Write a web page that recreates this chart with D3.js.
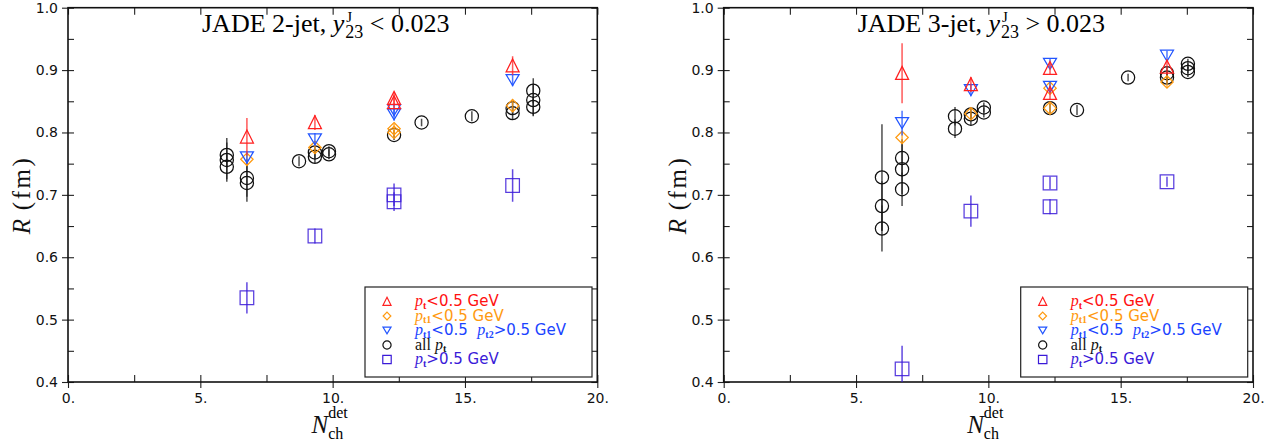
<!DOCTYPE html>
<html><head><meta charset="utf-8">
<script src="https://cdn.jsdelivr.net/npm/d3@7"></script>
<style>body{margin:0;background:#fff}svg{display:block}</style>
</head><body>
<svg id="c" width="1278" height="447"></svg>
<script>
// ---------- tick labels ----------
const xTickValues = [0, 5, 10, 15, 20];
const xTickLabels = ["0.", "5.", "10.", "15.", "20."];
const yTickValues = [0.4, 0.5, 0.6, 0.7, 0.8, 0.9, 1.0];
const yTickLabels = ["0.4", "0.5", "0.6", "0.7", "0.8", "0.9", "1.0"];

// ---------- left panel: JADE 2-jet ----------
const twoJetPtLowN = [6.76, 9.33, 12.32, 12.32, 16.8];
const twoJetPtLowR = [0.793, 0.816, 0.855, 0.848, 0.907];
const twoJetPtLowE = [0.03, 0.012, 0.01, 0.01, 0.015];

const twoJetPt1LowN = [6.76, 9.33, 12.32, 12.32, 16.8];
const twoJetPt1LowR = [0.757, 0.776, 0.806, 0.800, 0.843];
const twoJetPt1LowE = [0.01, 0.01, 0.008, 0.008, 0.01];

const twoJetMixN = [6.76, 9.33, 12.32, 12.32, 16.8];
const twoJetMixR = [0.760, 0.789, 0.836, 0.829, 0.884];
const twoJetMixE = [0.01, 0.01, 0.01, 0.01, 0.01];

const twoJetAllN = [6.0, 6.0, 6.0, 6.76, 6.76, 8.73, 9.33, 9.33, 9.86, 9.86, 12.32, 13.36, 15.26, 16.8, 16.8, 17.58, 17.58, 17.58];
const twoJetAllR = [0.764, 0.756, 0.745, 0.727, 0.719, 0.754, 0.761, 0.768, 0.770, 0.765, 0.796, 0.816, 0.826, 0.839, 0.831, 0.867, 0.852, 0.841];
const twoJetAllE = [0.02, 0.035, 0.02, 0.03, 0.03, 0.008, 0.01, 0.01, 0.008, 0.008, 0.008, 0.006, 0.008, 0.01, 0.01, 0.02, 0.025, 0.015];

const twoJetPtHighN = [6.76, 9.33, 12.32, 12.32, 16.8];
const twoJetPtHighR = [0.535, 0.634, 0.700, 0.689, 0.715];
const twoJetPtHighE = [0.025, 0.012, 0.018, 0.015, 0.026];

// ---------- right panel: JADE 3-jet ----------
const threeJetPtLowN = [6.74, 9.34, 12.33, 12.33, 16.75];
const threeJetPtLowR = [0.895, 0.877, 0.903, 0.863, 0.905];
const threeJetPtLowE = [0.048, 0.012, 0.01, 0.01, 0.012];

const threeJetPt1LowN = [6.74, 9.34, 12.33, 12.33, 16.75];
const threeJetPt1LowR = [0.792, 0.830, 0.871, 0.839, 0.881];
const threeJetPt1LowE = [0.01, 0.008, 0.008, 0.008, 0.008];

const threeJetMixN = [6.74, 9.34, 12.33, 12.33, 16.75];
const threeJetMixR = [0.815, 0.868, 0.910, 0.873, 0.923];
const threeJetMixE = [0.02, 0.01, 0.008, 0.008, 0.008];

const threeJetAllN = [5.98, 5.98, 5.98, 6.74, 6.74, 6.74, 8.74, 8.74, 9.34, 9.34, 9.83, 9.83, 12.33, 13.35, 15.28, 16.75, 16.75, 17.54, 17.54, 17.54];
const threeJetAllR = [0.728, 0.682, 0.646, 0.759, 0.741, 0.709, 0.826, 0.806, 0.829, 0.822, 0.840, 0.832, 0.839, 0.836, 0.888, 0.895, 0.888, 0.910, 0.903, 0.897];
const threeJetAllE = [0.085, 0.04, 0.037, 0.03, 0.04, 0.027, 0.015, 0.015, 0.01, 0.01, 0.008, 0.008, 0.008, 0.008, 0.006, 0.01, 0.01, 0.008, 0.008, 0.008];

const threeJetPtHighN = [6.74, 9.34, 12.33, 12.33, 16.75];
const threeJetPtHighR = [0.421, 0.674, 0.719, 0.681, 0.721];
const threeJetPtHighE = [0.037, 0.025, 0.01, 0.012, 0.008];

// ---------- styles ----------
const seriesStyle = {
  all:    {shape: "circle",  color: "#111111", bar: "#222222"},
  high:   {shape: "square",  color: "#3a1ad8", bar: "#3a1ad8"},
  pt1:    {shape: "diamond", color: "#ff9a10", bar: "#ff9a10"},
  mix:    {shape: "down",    color: "#2255ff", bar: "#2255ff"},
  low:    {shape: "up",      color: "#ff2020", bar: "#ff3030"}
};

function shapePath(shape, k) {
  switch (shape) {
    case "up": return `M0,${-6.8*k}L${6.5*k},${6.2*k}L${-6.5*k},${6.2*k}Z`;
    case "down": return `M${-6.5*k},${-5.5*k}L${6.5*k},${-5.5*k}L0,${5.5*k}Z`;
    case "diamond": return `M0,${-6.2*k}L${6.2*k},0L0,${6.2*k}L${-6.2*k},0Z`;
    case "square": return `M${-6.8*k},${-6.8*k}h${13.6*k}v${13.6*k}h${-13.6*k}Z`;
    case "circle": { const r = 6.6*k; return `M${r},0A${r},${r} 0 1,1 ${-r},0A${r},${r} 0 1,1 ${r},0Z`; }
  }
}

const panels = [
  { x0: 68, x1: 597.3, title: "JADE 2-jet, ", rel: " < 0.023",
    series: [
      ["all", twoJetAllN, twoJetAllR, twoJetAllE],
      ["high", twoJetPtHighN, twoJetPtHighR, twoJetPtHighE],
      ["pt1", twoJetPt1LowN, twoJetPt1LowR, twoJetPt1LowE],
      ["mix", twoJetMixN, twoJetMixR, twoJetMixE],
      ["low", twoJetPtLowN, twoJetPtLowR, twoJetPtLowE]
    ]},
  { x0: 723.7, x1: 1253, title: "JADE 3-jet, ", rel: " > 0.023",
    series: [
      ["all", threeJetAllN, threeJetAllR, threeJetAllE],
      ["high", threeJetPtHighN, threeJetPtHighR, threeJetPtHighE],
      ["pt1", threeJetPt1LowN, threeJetPt1LowR, threeJetPt1LowE],
      ["mix", threeJetMixN, threeJetMixR, threeJetMixE],
      ["low", threeJetPtLowN, threeJetPtLowR, threeJetPtLowE]
    ]}
];

const Y0 = 7.7, Y1 = 382;
const svg = d3.select("#c");
const SANS = "DejaVu Sans, Verdana, sans-serif";
const SERIF = "Liberation Serif, Times New Roman, serif";

const legendItems = [
  {key: "low",  color: "#ff1010", parts: [["p","it"],["t","sub"],["<0.5 GeV","sans"]]},
  {key: "pt1",  color: "#ff9a10", parts: [["p","it"],["t1","sub"],["<0.5 GeV","sans"]]},
  {key: "mix",  color: "#1a44ff", parts: [["p","it"],["t1","sub"],["<0.5  ","sans"],["p","it"],["t2","sub"],[">0.5 GeV","sans"]]},
  {key: "all",  color: "#111111", parts: [["all ","serif"],["p","it"],["t","sub"]]},
  {key: "high", color: "#3a1ad8", parts: [["p","it"],["t","sub"],[">0.5 GeV","sans"]]}
];

panels.forEach(p => {
  const x = d3.scaleLinear().domain([0, 20]).range([p.x0, p.x1]);
  const y = d3.scaleLinear().domain([0.4, 1.0]).range([Y1, Y0]);
  const g = svg.append("g");
  const clipId = "clip" + Math.round(p.x0);
  svg.append("defs").append("clipPath").attr("id", clipId)
    .append("rect").attr("x", p.x0).attr("y", Y0).attr("width", p.x1 - p.x0).attr("height", Y1 - Y0);

  const minorX = d3.range(0, 20.01, 2.5);
  const minorY = d3.range(0, 13).map(i => 0.4 + i * 0.05);

  const tickStyle = s => s.call(a => a.select(".domain").remove())
    .call(a => a.selectAll("line").attr("stroke", "#222").attr("stroke-width", 1.1))
    .call(a => a.selectAll("text").remove());
  g.append("g").attr("transform", `translate(0,${Y1})`)
    .call(d3.axisBottom(x).tickValues(minorX).tickSize(-7)).call(tickStyle);
  g.append("g").attr("transform", `translate(0,${Y0})`)
    .call(d3.axisTop(x).tickValues(minorX).tickSize(-7)).call(tickStyle);
  g.append("g").attr("transform", `translate(${p.x0},0)`)
    .call(d3.axisLeft(y).tickValues(minorY).tickSize(-6)).call(tickStyle);
  g.append("g").attr("transform", `translate(${p.x1},0)`)
    .call(d3.axisRight(y).tickValues(minorY).tickSize(-6)).call(tickStyle);

  const bx = g.append("g").attr("transform", `translate(0,${Y1})`)
    .call(d3.axisBottom(x).tickValues(xTickValues).tickSize(6).tickPadding(5)
      .tickFormat((d, i) => xTickLabels[i]));
  bx.select(".domain").remove();
  bx.selectAll("line").attr("stroke", "#222").attr("stroke-width", 1.1);
  bx.selectAll("text").attr("font-family", SANS).attr("font-size", 14).attr("fill", "#111");

  const ly = g.append("g").attr("transform", `translate(${p.x0},0)`)
    .call(d3.axisLeft(y).tickValues(yTickValues).tickSize(6).tickPadding(4)
      .tickFormat((d, i) => yTickLabels[i]));
  ly.select(".domain").remove();
  ly.selectAll("line").attr("stroke", "#222").attr("stroke-width", 1.1);
  ly.selectAll("text").attr("font-family", SANS).attr("font-size", 14).attr("fill", "#111");

  g.append("rect").attr("x", p.x0).attr("y", Y0).attr("width", p.x1 - p.x0).attr("height", Y1 - Y0)
    .attr("fill", "none").attr("stroke", "#111").attr("stroke-width", 1.6);

  const dg = g.append("g").attr("clip-path", `url(#${clipId})`);
  p.series.forEach(([key, N, R, E]) => {
    const st = seriesStyle[key];
    const pts = N.map((n, i) => ({n, r: R[i], e: E[i]}));
    dg.append("g").selectAll("line").data(pts).join("line")
      .attr("x1", d => x(d.n)).attr("x2", d => x(d.n))
      .attr("y1", d => y(d.r - d.e)).attr("y2", d => y(d.r + d.e))
      .attr("stroke", st.bar).attr("stroke-width", 1.5).attr("stroke-opacity", 0.8);
    dg.append("g").selectAll("path").data(pts).join("path")
      .attr("transform", d => `translate(${x(d.n)},${y(d.r)})`)
      .attr("d", shapePath(st.shape, 1))
      .attr("fill", "none").attr("stroke", st.color).attr("stroke-width", 1.25)
      .attr("stroke-opacity", key === "high" ? 0.85 : 1);
  });

  // title
  const tx = p.x0 + 134, tyb = 32;
  const tg = g.append("text").attr("x", tx).attr("y", tyb).attr("xml:space", "preserve")
    .attr("font-family", SERIF).attr("font-size", 26).attr("fill", "#000");
  tg.append("tspan").text(p.title);
  tg.append("tspan").attr("font-style", "italic").text("y");
  const tw = tg.node().getComputedTextLength();
  const sx = tx + tw + 1;
  g.append("text").attr("x", sx + 1).attr("y", tyb - 10).attr("font-family", SERIF).attr("font-size", 15).text("J");
  const sub = g.append("text").attr("x", sx).attr("y", tyb + 6).attr("font-family", SERIF).attr("font-size", 18).text("23");
  const subw = sub.node().getComputedTextLength();
  g.append("text").attr("x", sx + subw).attr("y", tyb).attr("xml:space", "preserve")
    .attr("font-family", SERIF).attr("font-size", 26).text(p.rel);

  // y label
  const yl = g.append("text")
    .attr("transform", `translate(${p.x0 - 38},195) rotate(-90)`)
    .attr("text-anchor", "middle").attr("font-family", SERIF).attr("font-size", 25).attr("fill", "#111")
    .attr("xml:space", "preserve");
  yl.append("tspan").attr("font-style", "italic").text("R");
  yl.append("tspan").attr("letter-spacing", 2.5).text(" (fm)");

  // x label
  const xlx = x(9.2);
  const xl = g.append("text").attr("x", xlx).attr("y", 433)
    .attr("font-family", SERIF).attr("font-size", 25).attr("font-style", "italic").attr("fill", "#111").text("N");
  const nw = xl.node().getComputedTextLength();
  g.append("text").attr("x", xlx + nw).attr("y", 418).attr("font-family", SERIF).attr("font-size", 16).text("det");
  g.append("text").attr("x", xlx + nw).attr("y", 439).attr("font-family", SERIF).attr("font-size", 16).text("ch");

  // legend
  const lx = p.x0 + 297, ly0 = 287;
  g.append("rect").attr("x", lx).attr("y", ly0).attr("width", 227).attr("height", 90)
    .attr("fill", "#fff").attr("stroke", "#222").attr("stroke-width", 1.2);
  legendItems.forEach((it, i) => {
    const cy = ly0 + 14.5 + i * 14.5;
    const st = seriesStyle[it.key];
    g.append("path").attr("transform", `translate(${lx + 22},${cy})`)
      .attr("d", shapePath(st.shape, 0.62)).attr("fill", "none")
      .attr("stroke", st.color).attr("stroke-width", 1.2);
    const t = g.append("text").attr("x", lx + 50).attr("y", cy + 4.5).attr("fill", it.color)
      .attr("font-family", SANS).attr("font-size", 15).attr("xml:space", "preserve");
    it.parts.forEach(([txt, kind], j) => {
      const ts = t.append("tspan").text(txt);
      if (kind === "it") ts.attr("font-family", SERIF).attr("font-style", "italic").attr("font-size", 16);
      else if (kind === "sub") ts.attr("font-family", SERIF).attr("font-weight", "bold").attr("font-size", 10).attr("dy", 2.5);
      else if (kind === "serif") ts.attr("font-family", SERIF).attr("font-size", 16);
      else if (j > 0) ts.attr("dy", -2.5);
    });
  });
});
</script>
</body></html>
